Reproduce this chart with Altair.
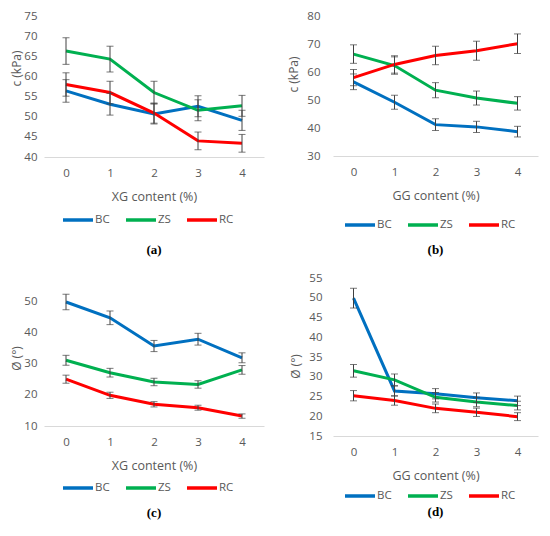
import altair as alt
import pandas as pd

x_vals = [0, 1, 2, 3, 4]
series = ["BC", "ZS", "RC"]
colors = ["#0070C0", "#00B050", "#FF0000"]

# (a) c (kPa) vs XG content
a_bc = [56.4, 53.1, 50.7, 52.6, 49.1]
a_zs = [66.3, 64.3, 56.0, 51.6, 52.7]
a_rc = [58.0, 56.0, 50.9, 44.0, 43.4]
a_bc_err = [2.8, 2.7, 2.5, 2.6, 2.5]
a_zs_err = [3.3, 3.2, 2.8, 2.6, 2.6]
a_rc_err = [2.9, 2.8, 2.5, 2.2, 2.2]

# (b) c (kPa) vs GG content
b_bc = [56.5, 49.2, 41.2, 40.4, 38.7]
b_zs = [66.4, 62.3, 53.5, 50.7, 48.8]
b_rc = [58.0, 62.7, 65.9, 67.6, 70.1]
b_bc_err = [2.8, 2.5, 2.1, 2.0, 1.9]
b_zs_err = [3.3, 3.1, 2.7, 2.5, 2.4]
b_rc_err = [2.9, 3.1, 3.3, 3.4, 3.5]

# (c) friction angle vs XG content
c_bc = [50.0, 44.9, 35.8, 38.0, 32.0]
c_zs = [31.2, 27.2, 24.2, 23.4, 28.1]
c_rc = [25.1, 19.9, 17.0, 15.9, 13.2]
c_bc_err = [2.5, 2.2, 1.8, 1.9, 1.6]
c_zs_err = [1.6, 1.4, 1.2, 1.2, 1.4]
c_rc_err = [1.3, 1.0, 0.85, 0.8, 0.7]

# (d) friction angle vs GG content
d_bc = [49.9, 26.4, 25.7, 24.7, 23.9]
d_zs = [31.5, 29.2, 24.8, 23.6, 22.7]
d_rc = [25.2, 24.0, 22.0, 21.0, 19.9]
d_bc_err = [2.5, 1.3, 1.3, 1.2, 1.2]
d_zs_err = [1.6, 1.5, 1.2, 1.2, 1.1]
d_rc_err = [1.3, 1.2, 1.1, 1.05, 1.0]

a_ticks = [40, 45, 50, 55, 60, 65, 70, 75]
b_ticks = [30, 40, 50, 60, 70, 80]
c_ticks = [10, 20, 30, 40, 50]
d_ticks = [15, 20, 25, 30, 35, 40, 45, 50, 55]

FONT = "Open Sans"
GREY = "#595959"
ERR = "#404040"


def panel(vals, errs, xtitle, ytitle, ydomain, yticks, w, h, ylab_pad,
          ytx, yty, leg_x, leg_y, caption, cap_off):
    rows = []
    for s, v, e in zip(series, vals, errs):
        for xi, vi, ei in zip(x_vals, v, e):
            rows.append({"x": xi, "series": s, "value": vi,
                         "lo": vi - ei, "hi": vi + ei})
    df = pd.DataFrame(rows)
    xs = alt.Scale(type="point", domain=x_vals, padding=0.5)
    x_axis = alt.Axis(title=xtitle, labelAngle=0, ticks=False, tickSize=0,
                      grid=False, domainColor="#D9D9D9", domainWidth=1,
                      labelPadding=16, labelBaseline="middle",
                      titleY=39, titleBaseline="middle",
                      labelColor=GREY, titleColor=GREY, labelFont=FONT,
                      titleFont=FONT, labelFontSize=11.5, titleFontSize=12.5,
                      titleFontWeight="normal")
    ys = alt.Scale(domain=ydomain, nice=False, zero=False)
    y_axis = alt.Axis(title=ytitle, values=yticks, ticks=False, tickSize=0,
                      domain=False, grid=False, labelPadding=ylab_pad,
                      labelColor=GREY, titleColor=GREY, labelFont=FONT,
                      titleFont=FONT, labelFontSize=11.5, titleFontSize=12,
                      titleFontWeight="normal", titleX=ytx, titleY=yty,
                      titleBaseline="middle", titleAngle=270)
    xenc = alt.X("x:O", scale=xs, axis=x_axis)
    base = alt.Chart(df)
    lines = base.mark_line(strokeWidth=3).encode(
        x=xenc,
        y=alt.Y("value:Q", scale=ys, axis=y_axis),
        color=alt.Color("series:N", scale=alt.Scale(domain=series, range=colors),
                        legend=alt.Legend(orient="none", legendX=leg_x, legendY=leg_y,
                                          direction="horizontal", title=None,
                                          symbolType="stroke", symbolSize=900,
                                          symbolStrokeWidth=3.5, labelFont=FONT,
                                          labelFontSize=11.5, labelColor=GREY,
                                          labelOffset=0, columnPadding=9,
                                          padding=0)),
    )
    rules = base.mark_rule(color=ERR, strokeWidth=1).encode(
        x=xenc,
        y=alt.Y("lo:Q", scale=ys, axis=y_axis),
        y2="hi:Q",
    )
    cap_lo = base.mark_tick(color=ERR, thickness=1, size=7).encode(
        x=xenc,
        y=alt.Y("lo:Q", scale=ys, axis=y_axis),
    )
    cap_hi = base.mark_tick(color=ERR, thickness=1, size=7).encode(
        x=xenc,
        y=alt.Y("hi:Q", scale=ys, axis=y_axis),
    )
    return alt.layer(lines, rules, cap_lo, cap_hi).properties(
        width=w, height=h,
        title=alt.TitleParams(caption, orient="bottom", font="Liberation Serif",
                              fontSize=13, fontWeight="bold", color="black",
                              offset=cap_off, anchor="middle"),
    )


pa = panel([a_bc, a_zs, a_rc], [a_bc_err, a_zs_err, a_rc_err], "XG content (%)",
           "c (kPa)", [40, 75], a_ticks, 220, 141, 7, -28, 52, 17, 187, "(a)", 17)
pb = panel([b_bc, b_zs, b_rc], [b_bc_err, b_zs_err, b_rc_err], "GG content (%)",
           "c (kPa)", [30, 80], b_ticks, 205, 140, 13, -40, 58, 10, 192, "(b)", 12)
pc = panel([c_bc, c_zs, c_rc], [c_bc_err, c_zs_err, c_rc_err], "XG content (%)",
           "Ø (°)", [10, 57.74], c_ticks, 220, 148, 7, -28, 80, 17, 193, "(c)", 12)
pd_ = panel([d_bc, d_zs, d_rc], [d_bc_err, d_zs_err, d_rc_err], "GG content (%)",
            "Ø (°)", [15, 55], d_ticks, 205, 158, 11, -38, 88, 10, 201, "(d)", 3)

chart = alt.concat(pa, pb, pc, pd_, columns=2,
                   spacing={"row": 121, "column": 69}, bounds="flush").resolve_scale(
    color="independent").resolve_legend(color="independent").properties(
    autosize=alt.AutoSizeParams(type="none"),
    padding={"left": 36, "top": 8, "right": 498, "bottom": 512},
).configure_view(stroke=None)

chart.save("out.html", embed_options={"renderer": "svg", "actions": False})
